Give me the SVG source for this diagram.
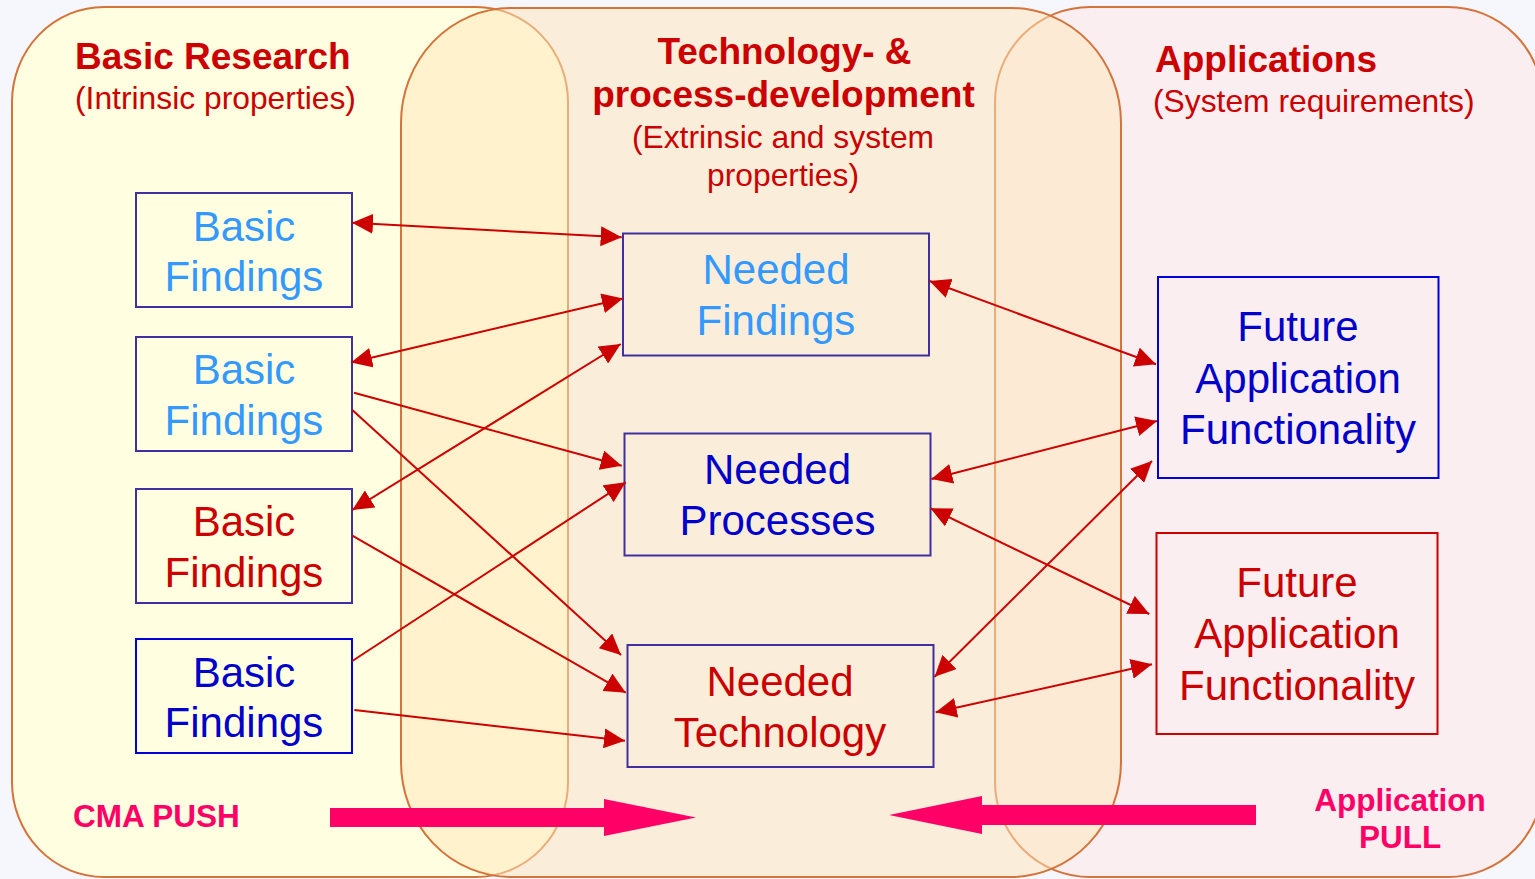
<svg xmlns="http://www.w3.org/2000/svg" width="1535" height="879" viewBox="0 0 1535 879">
<style>
text{font-family:"Liberation Sans",Arial,sans-serif}
.region{stroke:#D4733A;stroke-width:2}
.ttl{font-weight:bold;font-size:37px;fill:#CC0000}
.sub{font-size:31.8px;fill:#CC0000}
.box{fill:none;stroke-width:2}
.pb{stroke:#3F2FA0}
.bb{stroke:#0000DD}
.rb{stroke:#CC0000}
.lbl{font-size:42px;text-anchor:middle}
.lb{fill:#3399FF}
.db{fill:#0000CC}
.rd{fill:#CC0000}
.conn line{stroke:#CC0000;stroke-width:2}
.push{fill:#FF0066}
.pt{font-weight:bold;font-size:31.5px;fill:#FF0066}
</style>
<defs>
<marker id="ah" viewBox="0 0 21 20" refX="21" refY="10" markerWidth="21" markerHeight="20" markerUnits="userSpaceOnUse" orient="auto-start-reverse">
<path d="M0,0 L21,10 L0,20 z" fill="#CC0000"/>
</marker>
</defs>
<rect x="0" y="0" width="1535" height="879" fill="#F5F7FD"/>
<g id="regions">
<rect id="basic-research" class="region" x="12" y="7" width="556" height="870" rx="92" ry="95" fill="#FFFEE0"/>
<rect id="applications" class="region" x="995" y="7" width="548" height="870" rx="95" ry="95" fill="#FBEEF1"/>
<rect id="technology" class="region" x="401" y="8" width="720" height="869" rx="110" ry="115" fill="#FFE6B7" fill-opacity="0.5"/>
</g>
<g id="titles">
<text class="ttl" x="75" y="69">Basic Research</text>
<text class="sub" x="75" y="109">(Intrinsic properties)</text>
<text class="ttl" x="784.5" y="64" text-anchor="middle">Technology- &amp;</text>
<text class="ttl" x="783.5" y="107" text-anchor="middle">process-development</text>
<text class="sub" x="783" y="148" text-anchor="middle">(Extrinsic and system</text>
<text class="sub" x="783" y="186" text-anchor="middle">properties)</text>
<text class="ttl" x="1155" y="72">Applications</text>
<text class="sub" x="1153" y="112">(System requirements)</text>
</g>
<g id="bf1"><rect class="box pb" x="136" y="193" width="216" height="114"/><text class="lbl lb" x="244" y="241">Basic</text><text class="lbl lb" x="244" y="291">Findings</text></g>
<g id="bf2"><rect class="box pb" x="136" y="337" width="216" height="114"/><text class="lbl lb" x="244" y="384">Basic</text><text class="lbl lb" x="244" y="435">Findings</text></g>
<g id="bf3"><rect class="box pb" x="136" y="489" width="216" height="114"/><text class="lbl rd" x="244" y="536">Basic</text><text class="lbl rd" x="244" y="587">Findings</text></g>
<g id="bf4"><rect class="box bb" x="136" y="639" width="216" height="114"/><text class="lbl db" x="244" y="687">Basic</text><text class="lbl db" x="244" y="737">Findings</text></g>
<g id="needed-findings"><rect class="box pb" x="623" y="233.5" width="306" height="122"/><text class="lbl lb" x="776" y="284">Needed</text><text class="lbl lb" x="776" y="335">Findings</text></g>
<g id="needed-processes"><rect class="box pb" x="624.5" y="433.5" width="306" height="122"/><text class="lbl db" x="777.5" y="484">Needed</text><text class="lbl db" x="777.5" y="535">Processes</text></g>
<g id="needed-technology"><rect class="box pb" x="627.5" y="645" width="306" height="122"/><text class="lbl rd" x="780" y="696">Needed</text><text class="lbl rd" x="780" y="747">Technology</text></g>
<g id="future-app-1"><rect class="box bb" x="1158" y="277" width="280.5" height="201"/><text class="lbl db" x="1298" y="341">Future</text><text class="lbl db" x="1298" y="393">Application</text><text class="lbl db" x="1298" y="444">Functionality</text></g>
<g id="future-app-2"><rect class="box rb" x="1156.5" y="533" width="281" height="201"/><text class="lbl rd" x="1297" y="597">Future</text><text class="lbl rd" x="1297" y="648">Application</text><text class="lbl rd" x="1297" y="700">Functionality</text></g>
<g id="connectors" class="conn">
<line x1="352" y1="222.7" x2="621.7" y2="237.3" marker-start="url(#ah)" marker-end="url(#ah)"/>
<line x1="351" y1="362.5" x2="623" y2="298.5" marker-start="url(#ah)" marker-end="url(#ah)"/>
<line x1="354" y1="392.7" x2="621.7" y2="465.7" marker-end="url(#ah)"/>
<line x1="352.3" y1="410" x2="621" y2="655" marker-end="url(#ah)"/>
<line x1="352.3" y1="510" x2="620.7" y2="344" marker-start="url(#ah)" marker-end="url(#ah)"/>
<line x1="352.3" y1="535.7" x2="625.7" y2="692.7" marker-end="url(#ah)"/>
<line x1="352.3" y1="661" x2="625.7" y2="482.3" marker-end="url(#ah)"/>
<line x1="354.3" y1="710" x2="625" y2="740.7" marker-end="url(#ah)"/>
<line x1="929.5" y1="281" x2="1156" y2="364.3" marker-start="url(#ah)" marker-end="url(#ah)"/>
<line x1="931.4" y1="479" x2="1157" y2="421" marker-start="url(#ah)" marker-end="url(#ah)"/>
<line x1="930.5" y1="508.3" x2="1149.3" y2="614" marker-start="url(#ah)" marker-end="url(#ah)"/>
<line x1="934.6" y1="676.7" x2="1152" y2="461" marker-start="url(#ah)" marker-end="url(#ah)"/>
<line x1="935.7" y1="712.3" x2="1152" y2="664.3" marker-start="url(#ah)" marker-end="url(#ah)"/>
</g>
<g id="cma-push">
<polygon class="push" points="330,808 604,808 604,799 696,817.5 604,836 604,827 330,827"/>
<text class="pt" x="73" y="827">CMA PUSH</text>
</g>
<g id="application-pull">
<polygon class="push" points="1256,805 982,805 982,796 889,815 982,834 982,825 1256,825"/>
<text class="pt" x="1400" y="811" text-anchor="middle">Application</text>
<text class="pt" x="1400" y="848" text-anchor="middle">PULL</text>
</g>
</svg>
